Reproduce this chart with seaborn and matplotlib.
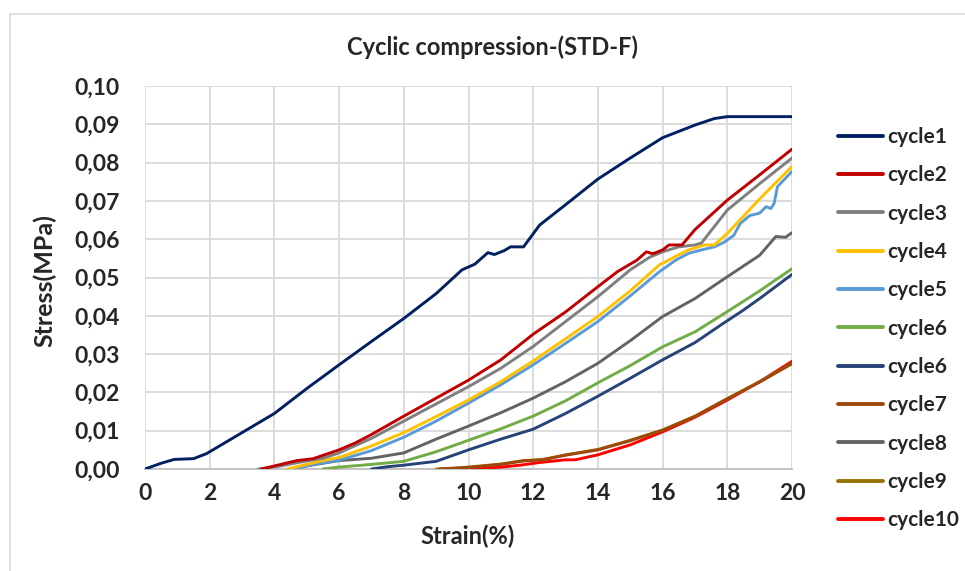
import pandas as pd
import seaborn as sns
import matplotlib.pyplot as plt
from matplotlib.lines import Line2D

# dati (Strain % , Stress MPa)
c1_x = [0, 0.5, 0.9, 1.2, 1.5, 1.9, 2.2, 3, 4, 5, 6, 7, 8, 9, 9.8, 10.2, 10.6, 10.8, 11.1, 11.3, 11.7,
        12.2, 13, 14, 15, 16, 17, 17.6, 18, 19, 20]
c1_y = [0, 0.0015, 0.0025, 0.0026, 0.0027, 0.004, 0.0055, 0.0095, 0.0145, 0.021, 0.0272, 0.0333, 0.0393,
        0.0458, 0.052, 0.0535, 0.0565, 0.056, 0.057, 0.058, 0.058, 0.0637, 0.069, 0.0757, 0.0812, 0.0865,
        0.0898, 0.0915, 0.092, 0.092, 0.092]

c2_x = [3.6, 4.2, 4.7, 5.2, 6.0, 6.5, 7, 8, 9, 10, 11, 12, 13, 14, 14.6, 15.2, 15.5, 15.7, 16.0, 16.2,
        16.6, 17, 18, 19, 20]
c2_y = [0, 0.0012, 0.0022, 0.0027, 0.005, 0.0068, 0.009, 0.0138, 0.0185, 0.0232, 0.0285, 0.0352, 0.041,
        0.0476, 0.0515, 0.0545, 0.0567, 0.0562, 0.0572, 0.0585, 0.0585, 0.0625, 0.0702, 0.0768, 0.0835]

c3_x = [3.5, 4.2, 4.8, 5.5, 6, 7, 8, 9, 10, 11, 12, 13, 14, 15, 15.6, 16, 16.5, 17, 17.2, 18, 19, 20]
c3_y = [0, 0.0008, 0.0018, 0.0028, 0.0042, 0.008, 0.0125, 0.017, 0.0215, 0.0263, 0.032, 0.0385, 0.045,
        0.052, 0.0553, 0.0567, 0.058, 0.0585, 0.059, 0.0676, 0.0745, 0.0812]

c4_x = [4.4, 5, 5.5, 6, 7, 8, 9, 10, 11, 12, 13, 14, 15, 15.9, 16.4, 16.8, 17.3, 17.6, 18, 19, 20]
c4_y = [0, 0.0012, 0.0022, 0.003, 0.006, 0.0095, 0.0137, 0.018, 0.0228, 0.0282, 0.034, 0.0398, 0.0465,
        0.0533, 0.0555, 0.0572, 0.0585, 0.0585, 0.0615, 0.0705, 0.079]

c5_x = [4.6, 5.2, 6, 7, 8, 9, 10, 11, 12, 13, 14, 15, 15.9, 16.4, 16.8, 17.2, 17.6, 17.9, 18.2, 18.4,
        18.7, 19, 19.2, 19.35, 19.45, 19.55, 20]
c5_y = [0, 0.0012, 0.0023, 0.0048, 0.0083, 0.0125, 0.0172, 0.022, 0.0272, 0.0328, 0.0385, 0.0452, 0.0515,
        0.0545, 0.0563, 0.0572, 0.058, 0.0592, 0.061, 0.0641, 0.0662, 0.0668, 0.0685, 0.068, 0.0694,
        0.0737, 0.0777]

c6_x = [5.5, 6, 7, 8, 9, 10, 11, 12, 13, 14, 15, 16, 17, 18, 19, 20]
c6_y = [0, 0.0005, 0.0012, 0.002, 0.0045, 0.0075, 0.0105, 0.0138, 0.0178, 0.0225, 0.027, 0.0319, 0.0358,
        0.0411, 0.0465, 0.0523]

c6b_x = [7, 7.5, 8, 9, 9.5, 10, 11, 12, 13, 14, 15, 16, 17, 17.8, 18.5, 19, 20]
c6b_y = [0, 0.0006, 0.001, 0.002, 0.0035, 0.005, 0.0078, 0.0104, 0.0145, 0.019, 0.0237, 0.0285, 0.033,
         0.0376, 0.0415, 0.0445, 0.0508]

c7_x = [9.1, 9.6, 10, 10.5, 11, 11.7, 12.3, 13, 14, 15, 16, 17, 18, 19, 20]
c7_y = [0, 0.0002, 0.0004, 0.0008, 0.0012, 0.0021, 0.0024, 0.0036, 0.005, 0.0074, 0.0101, 0.0137, 0.0183,
        0.0227, 0.0275]

c8_x = [4.5, 5, 6, 7, 8, 9, 10, 11, 12, 13, 14, 15, 16, 17, 18, 19, 19.5, 19.8, 20]
c8_y = [0, 0.0008, 0.0022, 0.0028, 0.0042, 0.0078, 0.0112, 0.0147, 0.0185, 0.0228, 0.0276, 0.0335, 0.0398,
        0.0445, 0.0502, 0.0558, 0.0607, 0.0605, 0.0617]

c9_x = [9.0, 9.5, 10, 10.5, 11, 11.7, 12.3, 13, 14, 15, 16, 17, 18, 19, 20]
c9_y = [0, 0.0002, 0.0005, 0.0009, 0.0013, 0.0022, 0.0025, 0.0037, 0.0051, 0.0075, 0.0102, 0.0138, 0.0184,
        0.0228, 0.0276]

c10_x = [10.1, 10.6, 11, 11.6, 12.2, 13.0, 13.3, 14, 15, 16, 17, 18, 19, 20]
c10_y = [0, 0.0003, 0.0005, 0.001, 0.0017, 0.0024, 0.0024, 0.0037, 0.0063, 0.0097, 0.0135, 0.018, 0.0228,
         0.0281]

nomi = ["cycle1", "cycle2", "cycle3", "cycle4", "cycle5", "cycle6", "cycle6", "cycle7", "cycle8",
        "cycle9", "cycle10"]
colori = ["#002060", "#C00000", "#7F7F7F", "#FFC000", "#5B9BD5", "#70AD47", "#264478", "#9E480E",
          "#636363", "#997300", "#FF0000"]
serie = [(c1_x, c1_y), (c2_x, c2_y), (c3_x, c3_y), (c4_x, c4_y), (c5_x, c5_y), (c6_x, c6_y),
         (c6b_x, c6b_y), (c7_x, c7_y), (c8_x, c8_y), (c9_x, c9_y), (c10_x, c10_y)]

sns.set_style("white")
plt.rcParams['font.family'] = ['Lato', 'DejaVu Sans']

fig = plt.figure(figsize=(9.65, 5.71), dpi=100)
ax = fig.add_axes([145 / 965, 1 - 469 / 571, (792 - 145) / 965, (469 - 86) / 571])

# disegno le curve in ordine inverso cosi cycle1 sta sopra
for i in range(len(serie) - 1, -1, -1):
    df = pd.DataFrame({"strain": serie[i][0], "stress": serie[i][1]})
    sns.lineplot(data=df, x="strain", y="stress", color=colori[i], linewidth=2.1, ax=ax,
                 legend=False, zorder=3)

ax.set_xlim(0, 20)
ax.set_ylim(0, 0.10)
ax.set_xticks(range(0, 21, 2))
ax.set_yticks([i / 100 for i in range(11)])
ax.set_yticklabels(["0,%02d" % i for i in range(11)])
ax.grid(True, color="#D9D9D9", linewidth=1.3, zorder=0)
for s in ["top", "right", "left"]:
    ax.spines[s].set_visible(False)
ax.spines["bottom"].set_color("#BFBFBF")
ax.spines["bottom"].set_linewidth(1.3)
ax.tick_params(axis="both", length=0, labelsize=16.5)
ax.tick_params(axis="y", pad=18)
ax.tick_params(axis="x", pad=10)
for lab in ax.get_xticklabels() + ax.get_yticklabels():
    lab.set_fontweight("bold")

ax.set_xlabel("")
ax.set_ylabel("")
fig.text(468 / 965, 1 - 536 / 571, "Strain(%)", ha="center", va="center", fontsize=17, fontweight="bold")
fig.text(45 / 965, 1 - 281 / 571, "Stress(MPa)", ha="center", va="center", rotation=90,
         fontsize=18, fontweight="bold")

fig.text(493 / 965, 1 - 47 / 571, "Cyclic compression-(STD-F)", ha="center", va="center",
         fontsize=17, fontweight="bold")

maniglie = [Line2D([0], [0], color=c, linewidth=2.8) for c in colori]
leg = fig.legend(maniglie, nomi, loc="upper left", bbox_to_anchor=(838 / 965, 1 - 127 / 571),
                 frameon=False, fontsize=15, handlelength=2.15, handletextpad=0.2,
                 labelspacing=0.88, borderpad=0, borderaxespad=0)
for t in leg.get_texts():
    t.set_fontweight("bold")

# bordo del grafico
fig.add_artist(Line2D([10 / 965, 10 / 965], [0, 1 - 13.5 / 571], color="#D9D9D9", linewidth=1.2))
fig.add_artist(Line2D([10 / 965, 1], [1 - 13.5 / 571, 1 - 13.5 / 571], color="#D9D9D9", linewidth=1.2))

fig.savefig("out.png", dpi=100, facecolor="white")
